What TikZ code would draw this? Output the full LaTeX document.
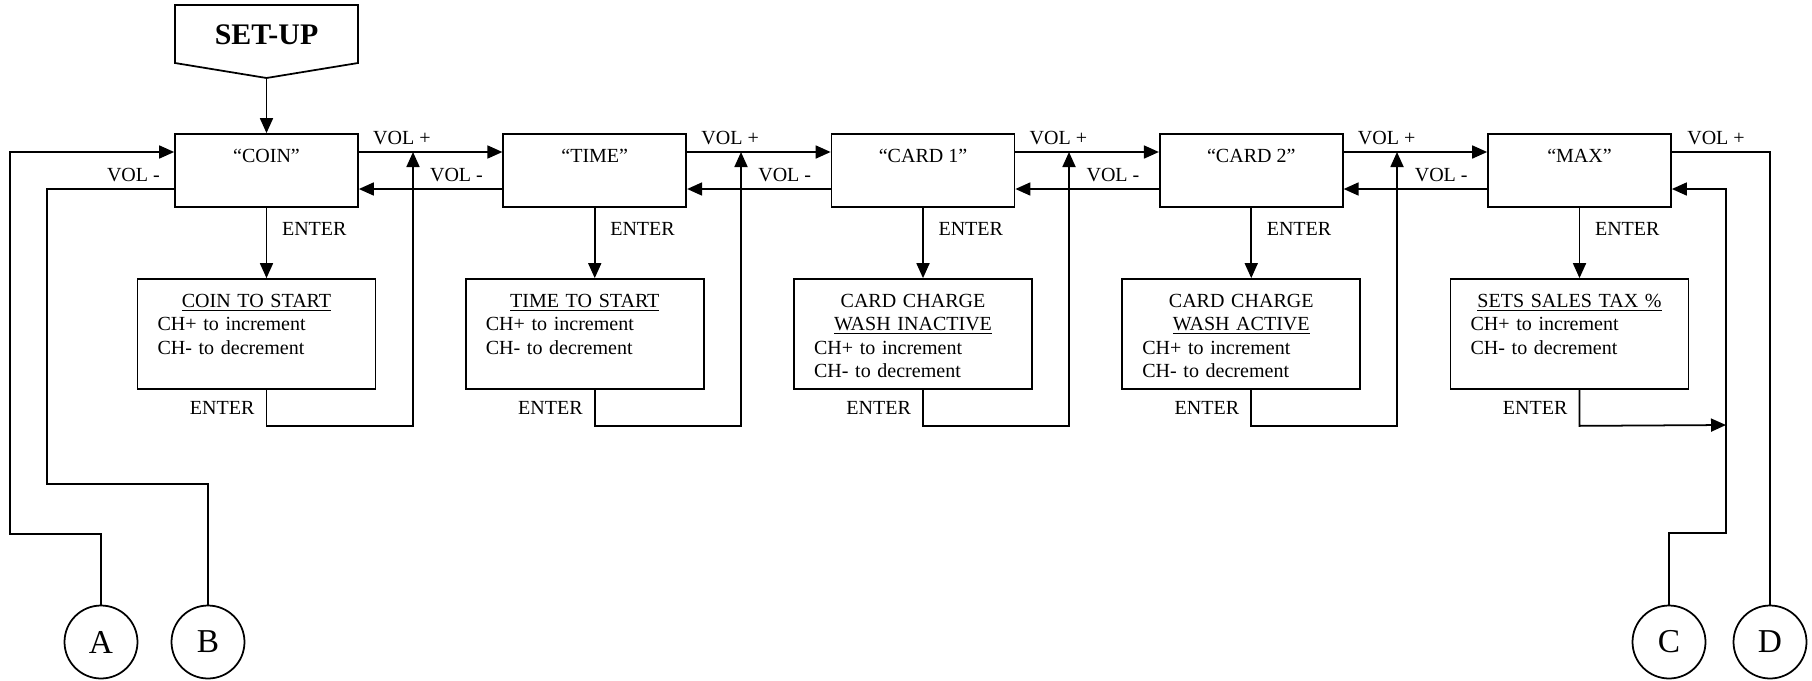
\documentclass[tikz,border=0pt]{standalone}
\usepackage{fontspec}
\setmainfont{Liberation Serif}
\usetikzlibrary{arrows.meta, positioning}

\begin{document}
\begin{tikzpicture}[
        x=0.02cm, y=-0.02cm,
        font=\fontsize{11.4}{13.3}\selectfont,
        line width=1pt,
        menu node/.style={rectangle, draw, minimum width=3.66cm, minimum height=1.46cm, inner sep=0pt},
        menu text/.style={anchor=north, inner sep=0pt, yshift=-0.31cm},
        set node/.style={rectangle, draw, minimum width=4.76cm, minimum height=2.2cm, inner sep=0pt},
        set text/.style={anchor=north, inner sep=0pt, yshift=-0.3cm, text width=3.96cm, align=left},
        port node/.style={circle, draw, minimum size=1.46cm, inner sep=0pt, font=\fontsize{19}{19}\selectfont},
        arrow/.style={-{Triangle[length=0.3cm, width=0.26cm]}},
        vol label/.style={above},
        enter right/.style={right, xshift=5pt},
        enter left/.style={left, xshift=-3pt}
      ]
      \useasboundingbox (0,0) rectangle (1812,680);

      % Set-up tab
      \draw (175,5) -- (358,5) -- (358,63) -- (266.5,78) -- (175,63) -- cycle;
      \node[font=\fontsize{17}{17}\selectfont\bfseries] (setup) at (266.5,35) {SET-UP};
      \coordinate (setuptip) at (266.5,78);

      % Menu nodes
      \node[menu node, label={[menu text]north:“COIN”}] (coin) at (266.5,170.5) {};
      \node[menu node, label={[menu text]north:“TIME”}] (time) at (594.75,170.5) {};
      \node[menu node, label={[menu text]north:“CARD 1”}] (card1) at (923,170.5) {};
      \node[menu node, label={[menu text]north:“CARD 2”}] (card2) at (1251.25,170.5) {};
      \node[menu node, label={[menu text]north:“MAX”}] (max) at (1579.5,170.5) {};

      % Setting nodes
      \node[set node] (coinset) at (256.5,334) {};
      \node[set node] (timeset) at (584.75,334) {};
      \node[set node] (card1set) at (913,334) {};
      \node[set node] (card2set) at (1241.25,334) {};
      \node[set node] (maxset) at (1569.5,334) {};

      \node[set text] (coinsettext) at (coinset.north) {{\centering\underline{COIN TO START}\par}CH+ to increment\\CH- to decrement};
      \node[set text] (timesettext) at (timeset.north) {{\centering\underline{TIME TO START}\par}CH+ to increment\\CH- to decrement};
      \node[set text] (card1settext) at (card1set.north) {{\centering CARD CHARGE\par\underline{WASH INACTIVE}\par}CH+ to increment\\CH- to decrement};
      \node[set text] (card2settext) at (card2set.north) {{\centering CARD CHARGE\par\underline{WASH ACTIVE}\par}CH+ to increment\\CH- to decrement};
      \node[set text] (maxsettext) at (maxset.north) {{\centering\underline{SETS SALES TAX \%}\par}CH+ to increment\\CH- to decrement};

      % Ports
      \node[port node] (A) at (101,642) {A};
      \node[port node] (B) at (208,642) {B};
      \node[port node] (C) at (1669,642) {C};
      \node[port node] (D) at (1770,642) {D};

      % Junctions
      \coordinate (coinret) at (413,152);
      \coordinate (timeret) at (741,152);
      \coordinate (card1ret) at (1069,152);
      \coordinate (card2ret) at (1397,152);
      \coordinate (maxret) at (1726,425);

      % Edges
      \draw[arrow] (setuptip) -- (coin);

      \draw[arrow] (coin.east |- 0,152) -- node[vol label, pos=0.3] {VOL +} (time.west |- 0,152);
      \draw[arrow] (time.east |- 0,152) -- node[vol label, pos=0.3] {VOL +} (card1.west |- 0,152);
      \draw[arrow] (card1.east |- 0,152) -- node[vol label, pos=0.3] {VOL +} (card2.west |- 0,152);
      \draw[arrow] (card2.east |- 0,152) -- node[vol label, pos=0.3] {VOL +} (max.west |- 0,152);

      \draw[arrow] (time.west |- 0,189) -- node[vol label, pos=0.32] {VOL -} (coin.east |- 0,189);
      \draw[arrow] (card1.west |- 0,189) -- node[vol label, pos=0.32] {VOL -} (time.east |- 0,189);
      \draw[arrow] (card2.west |- 0,189) -- node[vol label, pos=0.32] {VOL -} (card1.east |- 0,189);
      \draw[arrow] (max.west |- 0,189) -- node[vol label, pos=0.32] {VOL -} (card2.east |- 0,189);

      \draw[arrow] (coin) -- node[enter right, pos=0.3] {ENTER} (coinset.north -| coin);
      \draw[arrow] (time) -- node[enter right, pos=0.3] {ENTER} (timeset.north -| time);
      \draw[arrow] (card1) -- node[enter right, pos=0.3] {ENTER} (card1set.north -| card1);
      \draw[arrow] (card2) -- node[enter right, pos=0.3] {ENTER} (card2set.north -| card2);
      \draw[arrow] (max) -- node[enter right, pos=0.3] {ENTER} (maxset.north -| max);

      \draw[arrow] (coinset.south -| coin) -- node[enter left] {ENTER} ++(0,36) -| (coinret);
      \draw[arrow] (timeset.south -| time) -- node[enter left] {ENTER} ++(0,36) -| (timeret);
      \draw[arrow] (card1set.south -| card1) -- node[enter left] {ENTER} ++(0,36) -| (card1ret);
      \draw[arrow] (card2set.south -| card2) -- node[enter left] {ENTER} ++(0,36) -| (card2ret);
      \draw[arrow] (maxset.south -| max) -- node[enter left] {ENTER} ++(0,36) -- (maxret);

      \draw[arrow] (A) |- (10,534) |- (coin.west |- 0,152);
      \draw (coin.west |- 0,189) -- node[vol label, pos=0.32] {VOL -} (47,189) -- (47,484) -| (B);
      \draw[arrow] (C) |- (1726,533) |- (max.east |- 0,189);
      \draw (max.east |- 0,152) -- node[vol label, pos=0.45] {VOL +} (D |- 0,152) -- (D);
    \end{tikzpicture}
\end{document}
